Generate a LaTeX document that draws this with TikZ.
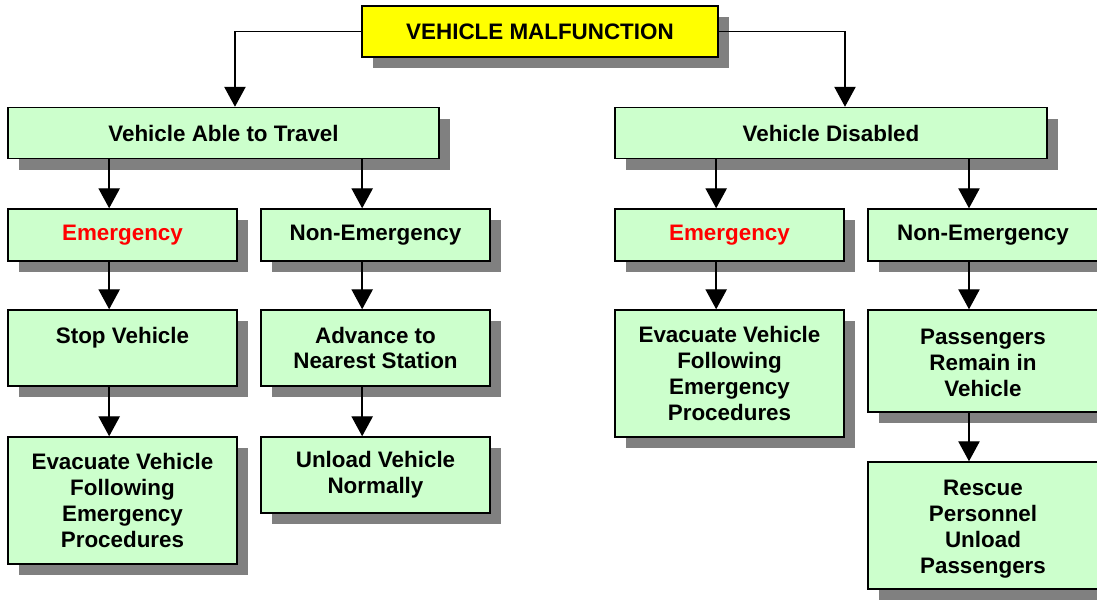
\documentclass[tikz,border=0pt]{standalone}
\usepackage{fontspec}
\setmainfont{Liberation Sans}
\usetikzlibrary{arrows.meta,shadows}
\definecolor{boxgreen}{HTML}{CCFFCC}
\definecolor{boxyellow}{HTML}{FFFF00}
\definecolor{shadowgray}{HTML}{808080}
\definecolor{emred}{HTML}{FF0000}
\newcommand{\lowerby}[2]{\raisebox{0pt}[\dimexpr\height+#1\relax][\depth]{#2}}
\begin{document}
\begin{tikzpicture}[x=0.75pt,y=-0.75pt,
  box/.style={draw=black, line width=1.1pt, fill=boxgreen, align=center,
    font=\bfseries\fontsize{16.8}{19.4}\selectfont, inner sep=0pt,
    drop shadow={shadow xshift=8.6pt, shadow yshift=-8.6pt, fill=shadowgray, opacity=1, draw=none}},
  topbox/.style={box, fill=boxyellow},
  arr/.style={line width=1.1pt, -{Triangle[width=16pt,length=15pt]}},
  emtext/.style={text=emred}]
\useasboundingbox (0,0) rectangle (1097,602);
\clip (0,0) rectangle (1097,602);
\fill[white] (0,0) rectangle (1097,602);

\node[topbox, minimum width={356*0.75pt}, minimum height={51*0.75pt}] (top) at (540,31.5) {VEHICLE MALFUNCTION};

\node[box, minimum width={431*0.75pt}, minimum height={51*0.75pt}] (vat) at (223.5,133) {Vehicle Able to Travel};
\node[box, minimum width={432*0.75pt}, minimum height={51*0.75pt}] (vd) at (831,133) {Vehicle Disabled};

\node[box, emtext, minimum width={229*0.75pt}, minimum height={52*0.75pt}] (emL) at (122.5,235) {Emergency};
\node[box, minimum width={229*0.75pt}, minimum height={52*0.75pt}] (neL) at (375.5,235) {Non-Emergency};
\node[box, emtext, minimum width={229*0.75pt}, minimum height={52*0.75pt}] (emR) at (729.5,235) {Emergency};
\node[box, minimum width={240*0.75pt}, minimum height={52*0.75pt}] (neR) at (988,235) {\hspace*{-7.5pt}Non-Emergency};

\node[box, minimum width={229*0.75pt}, minimum height={76*0.75pt}] (stop) at (122.5,348) {Stop Vehicle\\ \phantom{V}};
\node[box, minimum width={229*0.75pt}, minimum height={76*0.75pt}] (adv) at (375.5,348) {Advance to\\Nearest Station};
\node[box, minimum width={229*0.75pt}, minimum height={127*0.75pt}] (evL) at (122.5,500.5) {Evacuate Vehicle\\Following\\Emergency\\Procedures};
\node[box, minimum width={229*0.75pt}, minimum height={76*0.75pt}] (unl) at (375.5,475) {Unload Vehicle\\Normally};

\node[box, minimum width={229*0.75pt}, minimum height={127*0.75pt}] (evR) at (729.5,373.5) {Evacuate Vehicle\\Following\\Emergency\\Procedures};
\node[box, minimum width={240*0.75pt}, minimum height={102*0.75pt}] (pas) at (988,361) {\hspace*{-7.5pt}\lowerby{6pt}{\begin{tabular}{@{}c@{}}Passengers\\Remain in\\Vehicle\end{tabular}}};
\node[box, minimum width={240*0.75pt}, minimum height={127*0.75pt}] (res) at (988,525.5) {\hspace*{-7.5pt}\lowerby{6pt}{\begin{tabular}{@{}c@{}}Rescue\\Personnel\\Unload\\Passengers\end{tabular}}};

% connectors
\draw[arr] (top.west) -| ([xshift=8.6pt]vat.north);
\draw[arr] (top.east) -| ([xshift=10.5pt]vd.north);

\draw[arr] ([xshift=-10pt]emL.north |- vat.south) -- ([xshift=-10pt]emL.north);
\draw[arr] ([xshift=-10pt]neL.north |- vat.south) -- ([xshift=-10pt]neL.north);
\draw[arr] ([xshift=-10pt]emR.north |- vd.south) -- ([xshift=-10pt]emR.north);
\draw[arr] ([xshift=-14.25pt]neR.north |- vd.south) -- ([xshift=-14.25pt]neR.north);

\draw[arr] ([xshift=-10pt]emL.south) -- ([xshift=-10pt]stop.north);
\draw[arr] ([xshift=-10pt]stop.south) -- ([xshift=-10pt]evL.north);
\draw[arr] ([xshift=-10pt]neL.south) -- ([xshift=-10pt]adv.north);
\draw[arr] ([xshift=-10pt]adv.south) -- ([xshift=-10pt]unl.north);
\draw[arr] ([xshift=-10pt]emR.south) -- ([xshift=-10pt]evR.north);
\draw[arr] ([xshift=-14.25pt]neR.south) -- ([xshift=-14.25pt]pas.north);
\draw[arr] ([xshift=-14.25pt]pas.south) -- ([xshift=-14.25pt]res.north);
\end{tikzpicture}
\end{document}
